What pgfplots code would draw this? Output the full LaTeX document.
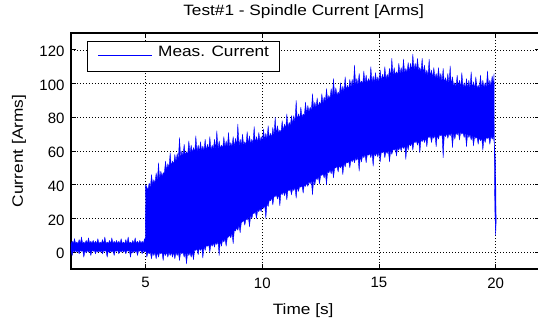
\documentclass[border=0pt]{standalone}
\usepackage{fontspec}
\setmainfont{Liberation Sans}[FakeStretch=1.15]
\newfontfamily\tickfont{Liberation Sans}
\usepackage{pgfplots}
\pgfplotsset{compat=1.18}
\definecolor{mblue}{rgb}{0,0,1}
\begin{document}
\begin{tikzpicture}
\useasboundingbox (-71pt,-53pt) rectangle (467pt,269pt);
\begin{axis}[
  at={(0pt,0pt)}, anchor=south west,
  scale only axis, width=469pt, height=236pt,
  xmin=1.8, xmax=21.9, ymin=-10, ymax=130,
  xtick={5,10,15,20}, ytick={0,20,...,120},
  grid=major,
  major grid style={black, line width=0.7pt, dash pattern=on 1pt off 2pt},
  tick align=inside, tick pos=both,
  major tick length=5pt,
  tick style={black, line width=0.8pt},
  axis line style={black, line width=1.3pt},
  /pgf/number format/assume math mode=true,
  tick label style={font=\tickfont\fontsize{15}{18}\selectfont},
  yticklabel style={xshift=-3pt, yshift=-1.5pt},
  xticklabel style={yshift=-5pt},
  title={Test\#1 - Spindle Current [Arms]},
  title style={at={(axis description cs:0.496,1.0479)}, anchor=base, font=\fontsize{15}{18}\selectfont},
  xlabel={Time [s]},
  xlabel style={at={(axis description cs:0.495,-0.1907)}, anchor=base, font=\fontsize{15}{18}\selectfont},
  ylabel={Current [Arms]},
  ylabel style={at={(axis description cs:-0.111,0.5)}, anchor=center, font=\fontsize{15}{18}\selectfont},
  legend style={at={(axis description cs:0.0335,0.9674)}, anchor=north west,
    draw, line width=0.9pt, fill=white, inner sep=0pt,
    font=\fontsize{15}{18}\selectfont, row sep=0pt, column sep=0pt,
    nodes={inner sep=0pt}},
  legend image code/.code={
    \path[draw=none, fill=none] (0pt,-19pt) rectangle (71pt,11pt);
    \fill[fill=mblue, draw=none] (11pt,-3.85pt) rectangle (65pt,-2.75pt);
  },
]
\addplot[draw=mblue, fill=mblue, line width=0.35pt, line join=round] coordinates {
(1.8,1)(1.8,5)(1.85,6.5)(1.9,5)(1.95,8)(2.0,5)(2.05,6)(2.1,5)(2.15,7.5)(2.2,5)(2.25,9)(2.3,5)(2.35,6)(2.4,5)(2.45,7)(2.5,5)(2.55,8.5)(2.6,5)(2.65,6.5)(2.7,5)(2.75,7)
(2.8,5)(2.85,6.5)(2.9,5)(2.95,8)(3.0,5)(3.05,6)(3.1,5)(3.15,7.5)(3.2,5)(3.25,9)(3.3,5)(3.35,6)(3.4,5)(3.45,7)(3.5,5)(3.55,8.5)(3.6,5)(3.65,6.5)(3.7,5)(3.75,7)
(3.8,5)(3.85,6.5)(3.9,5)(3.95,8)(4.0,5)(4.05,6)(4.1,5)(4.15,7.5)(4.2,5)(4.25,9)(4.3,5)(4.35,6)(4.4,5)(4.45,7)(4.5,5)(4.55,8.5)(4.6,5)(4.65,6.5)(4.7,5)(4.75,7)
(4.8,5)(4.85,6.5)(4.9,5)(4.95,8)(4.98,5)
(5.0,40)(5.1,37)(5.15,41)(5.2,38)(5.25,46)(5.3,40)(5.35,43)(5.4,41)(5.45,47)(5.5,42)(5.55,53)(5.6,43)(5.65,48)(5.7,45)(5.75,47)(5.8,47)(5.85,54)(5.9,48.5)(5.95,52.5)
(6.0,50)(6.05,59)(6.1,51)(6.15,54)(6.2,52)(6.25,58)(6.3,53.5)(6.35,58.5)(6.4,55)(6.45,68)(6.5,56)(6.55,60)(6.6,57)(6.65,64)(6.7,57.5)(6.75,59.5)(6.8,58)(6.85,66)(6.9,58.5)(6.95,63.5)
(7.0,59)(7.05,62)(7.1,59)(7.15,69)(7.2,59.5)(7.25,63.5)(7.3,59.5)(7.35,65.5)(7.4,60)(7.45,63)(7.5,60)(7.55,67)(7.6,60)(7.65,64)(7.7,60.5)(7.75,68.5)(7.8,60.5)(7.85,63.5)(7.9,61)(7.95,67)
(8.0,61)(8.05,72)(8.1,61)(8.15,66)(8.2,61.5)(8.25,63.5)(8.3,61.5)(8.35,68.5)(8.4,62)(8.45,66)(8.5,62)(8.55,71)(8.6,62)(8.65,65)(8.7,62.5)(8.75,68.5)(8.8,62.5)(8.85,67.5)(8.9,63)(8.95,76)
(9.0,63)(9.05,67)(9.1,63)(9.15,70)(9.2,63.5)(9.25,65.5)(9.3,63.5)(9.35,71.5)(9.4,64)(9.45,69)(9.5,64)(9.55,67)(9.6,64.5)(9.65,74.5)(9.7,64.5)(9.75,68.5)(9.8,65)(9.85,71)(9.9,65.5)(9.95,68.5)
(10.0,66)(10.05,73)(10.1,66.5)(10.15,70.5)(10.2,67)(10.25,75)(10.3,67.5)(10.35,70.5)(10.4,68)(10.45,74)(10.5,69)(10.55,80)(10.6,70)(10.65,75)(10.7,70.5)(10.75,72.5)(10.8,71)(10.85,78)(10.9,72)(10.95,76)
(11.0,73)(11.05,82)(11.1,74)(11.15,77)(11.2,75)(11.25,81)(11.3,76)(11.35,81)(11.4,77)(11.45,90)(11.5,78)(11.55,82)(11.6,79)(11.65,86)(11.7,80)(11.75,82)(11.8,81)(11.85,89)(11.9,82)(11.95,87)
(12.0,83)(12.05,86)(12.1,84)(12.15,94)(12.2,85)(12.25,89)(12.3,85.5)(12.35,91.5)(12.4,86)(12.45,89)(12.5,87)(12.55,94)(12.6,88)(12.65,92)(12.7,89)(12.75,97)(12.8,90)(12.85,93)(12.9,91)(12.95,97)
(13.0,92)(13.05,103)(13.1,92.5)(13.15,97.5)(13.2,93)(13.25,95)(13.3,93.5)(13.35,100.5)(13.4,94.5)(13.45,98.5)(13.5,95)(13.55,104)(13.6,96)(13.65,99)(13.7,96.5)(13.75,102.5)(13.8,97.5)(13.85,102.5)(13.9,98)(13.95,111)
(14.0,99)(14.05,103)(14.1,99)(14.15,106)(14.2,99.5)(14.25,101.5)(14.3,99.5)(14.35,107.5)(14.4,100)(14.45,105)(14.5,100)(14.55,103)(14.6,100)(14.65,110)(14.7,100.5)(14.75,104.5)(14.8,100.5)(14.85,106.5)(14.9,101)(14.95,104)
(15.0,101)(15.05,108)(15.1,101.5)(15.15,105.5)(15.2,102)(15.25,110)(15.3,102.5)(15.35,105.5)(15.4,103)(15.45,109)(15.5,104)(15.55,115)(15.6,104.5)(15.65,109.5)(15.7,105)(15.75,107)(15.8,105)(15.85,112)(15.9,105.5)(15.95,109.5)
(16.0,105.5)(16.05,114.5)(16.1,106)(16.15,109)(16.2,106.5)(16.25,112.5)(16.3,107)(16.35,112)(16.4,107.5)(16.45,117.5)(16.5,108)(16.55,112)(16.6,108)(16.65,115)(16.7,107.5)(16.75,109.5)(16.8,107)(16.85,115)(16.9,106)(16.95,111)
(17.0,105)(17.05,108)(17.1,104.5)(17.15,114.5)(17.2,104)(17.25,108)(17.3,103.5)(17.35,109.5)(17.4,103)(17.45,106)(17.5,102.5)(17.55,109.5)(17.6,102)(17.65,106)(17.7,101)(17.75,109)(17.8,100.5)(17.85,103.5)(17.9,100)(17.95,106)
(18.0,99.5)(18.05,110.5)(18.1,99)(18.15,104)(18.2,98.5)(18.25,100.5)(18.3,98)(18.35,105)(18.4,98)(18.45,102)(18.5,97.5)(18.55,106.5)(18.6,97.5)(18.65,100.5)(18.7,97)(18.75,103)(18.8,97)(18.85,102)(18.9,97)(18.95,107)
(19.0,97)(19.05,101)(19.1,97)(19.15,104)(19.2,97)(19.25,99)(19.3,97)(19.35,105)(19.4,97)(19.45,102)(19.5,97.5)(19.55,100.5)(19.6,97.5)(19.65,107.5)(19.7,98)(19.75,102)(19.8,98.5)(19.85,104.5)(19.9,99)(19.93,106)
(19.95,40)(19.97,22)(20.0,10)(20.02,18)(20.0,50)(19.96,62)
(19.9,69)(19.85,67)(19.8,69)(19.75,64)(19.7,68.5)(19.65,67.5)(19.6,68)(19.55,65)(19.5,67.5)(19.45,60.5)(19.4,68)(19.35,66)(19.3,68)(19.25,64)(19.2,68.5)(19.15,67.5)(19.1,69)(19.05,63)(19.0,69.5)(18.95,66.5)
(18.9,70)(18.85,68)(18.8,70.5)(18.75,62.5)(18.7,71)(18.65,68)(18.6,71)(18.55,70)(18.5,71.5)(18.45,66.5)(18.4,71.5)(18.35,69.5)(18.3,71)(18.25,67)(18.2,71)(18.15,62)(18.1,71)(18.05,69)(18.0,70.5)(17.95,67.5)
(17.9,70.5)(17.85,68.5)(17.8,70)(17.75,56)(17.7,70)(17.65,69)(17.6,70)(17.55,67)(17.5,69.5)(17.45,62.5)(17.4,69.5)(17.35,67.5)(17.3,69)(17.25,65)(17.2,69)(17.15,68)(17.1,68.5)(17.05,62.5)(17.0,68)(16.95,65)
(16.9,67.5)(16.85,65.5)(16.8,67)(16.75,59)(16.7,66.5)(16.65,63.5)(16.6,66)(16.55,65)(16.5,65.5)(16.45,60.5)(16.4,65)(16.35,63)(16.3,64.5)(16.25,60.5)(16.2,64)(16.15,55)(16.1,63.5)(16.05,61.5)(16.0,63)(15.95,60)
(15.9,62.5)(15.85,60.5)(15.8,62)(15.75,57)(15.7,61.5)(15.65,60.5)(15.6,61)(15.55,58)(15.5,60.5)(15.45,53.5)(15.4,60.5)(15.35,58.5)(15.3,60)(15.25,56)(15.2,60)(15.15,59)(15.1,59.5)(15.05,53.5)(15.0,59.5)(14.95,56.5)
(14.9,59)(14.85,57)(14.8,59)(14.75,51)(14.7,59)(14.65,56)(14.6,58.5)(14.55,57.5)(14.5,58)(14.45,53)(14.4,58)(14.35,56)(14.3,57.5)(14.25,53.5)(14.2,57)(14.15,48)(14.1,56.5)(14.05,54.5)(14.0,56)(13.95,53)
(13.9,55.5)(13.85,53.5)(13.8,55)(13.75,50)(13.7,54)(13.65,53)(13.6,53.5)(13.55,50.5)(13.5,53)(13.45,46)(13.4,52)(13.35,50)(13.3,51.5)(13.25,47.5)(13.2,51)(13.15,50)(13.1,50)(13.05,44)(13.0,49.5)(12.95,46.5)
(12.9,49)(12.85,47)(12.8,48)(12.75,40)(12.7,47)(12.65,44)(12.6,46.5)(12.55,45.5)(12.5,45.5)(12.45,40.5)(12.4,45)(12.35,43)(12.3,44)(12.25,40)(12.2,43)(12.15,34)(12.1,42.5)(12.05,40.5)(12.0,42)(11.95,39)
(11.9,41)(11.85,39)(11.8,40)(11.75,35)(11.7,39.5)(11.65,38.5)(11.6,39)(11.55,36)(11.5,39)(11.45,32)(11.4,38.5)(11.35,36.5)(11.3,38)(11.25,34)(11.2,37.5)(11.15,36.5)(11.1,37)(11.05,31)(11.0,36.5)(10.95,33.5)
(10.9,36)(10.85,34)(10.8,35.5)(10.75,27.5)(10.7,34.5)(10.65,31.5)(10.6,34)(10.55,33)(10.5,33)(10.45,28)(10.4,32.5)(10.35,30.5)(10.3,31)(10.25,27)(10.2,29)(10.15,20)(10.1,28)(10.05,26)(10.0,27)(9.95,24)
(9.9,26)(9.85,24)(9.8,25)(9.75,20)(9.7,24)(9.65,23)(9.6,23)(9.55,20)(9.5,22)(9.45,15)(9.4,21)(9.35,19)(9.3,20)(9.25,16)(9.2,19)(9.15,18)(9.1,17.5)(9.05,11.5)(9.0,16)(8.95,13)
(8.9,14.5)(8.85,12.5)(8.8,13)(8.75,5)(8.7,11.5)(8.65,8.5)(8.6,10)(8.55,9)(8.5,8.5)(8.45,3.5)(8.4,8)(8.35,6)(8.3,7.5)(8.25,3.5)(8.2,7)(8.15,-2)(8.1,6.5)(8.05,4.5)(8.0,6)(7.95,3)
(7.9,5.5)(7.85,3.5)(7.8,5)(7.75,0)(7.7,4.5)(7.65,3.5)(7.6,4)(7.55,1)(7.5,3.5)(7.45,-3.5)(7.4,3)(7.35,1)(7.3,2.5)(7.25,-1.5)(7.2,2)(7.15,1)(7.1,1.5)(7.05,-4.5)(7.0,0)(6.95,-3)
(6.9,0)(6.85,-2)(6.8,0)(6.75,-7)(6.7,0)(6.65,-3)(6.6,0)(6.55,-1)(6.5,0)(6.45,-5)(6.4,0)(6.35,-2)(6.3,0)(6.25,-4)(6.2,0)(6.15,-3)(6.1,0)(6.05,-2)(6.0,0)(5.95,-3)
(5.9,0)(5.85,-2)(5.8,0)(5.75,-5)(5.7,0)(5.65,-1)(5.6,0)(5.55,-3)(5.5,0)(5.45,-4)(5.4,0)(5.35,-2)(5.3,0)(5.25,-4)(5.2,0)(5.15,-1)(5.1,0)(5.05,-3)(5.02,0)
(4.98,1)(4.95,0)(4.9,1)(4.85,-1)(4.8,1)(4.75,0.5)(4.7,1)(4.65,-2)(4.6,1)(4.55,0)(4.5,1)(4.45,-0.5)(4.4,1)(4.35,-3)(4.3,1)(4.25,0.5)(4.2,1)(4.15,-1)(4.1,1)(4.05,0)
(4.0,1)(3.95,0)(3.9,1)(3.85,-1)(3.8,1)(3.75,0.5)(3.7,1)(3.65,-2)(3.6,1)(3.55,0)(3.5,1)(3.45,-0.5)(3.4,1)(3.35,-3)(3.3,1)(3.25,0.5)(3.2,1)(3.15,-1)(3.1,1)(3.05,0)
(3.0,1)(2.95,0)(2.9,1)(2.85,-1)(2.8,1)(2.75,0.5)(2.7,1)(2.65,-2)(2.6,1)(2.55,0)(2.5,1)(2.45,-0.5)(2.4,1)(2.35,-3)(2.3,1)(2.25,0.5)(2.2,1)(2.15,-1)(2.1,1)(2.05,0)
(2.0,1)(1.95,0)(1.9,1)(1.85,-2)(1.8,1)
} -- cycle;
\addlegendentry{Meas. Current\hspace*{10pt}}
\end{axis}
\end{tikzpicture}
\end{document}
